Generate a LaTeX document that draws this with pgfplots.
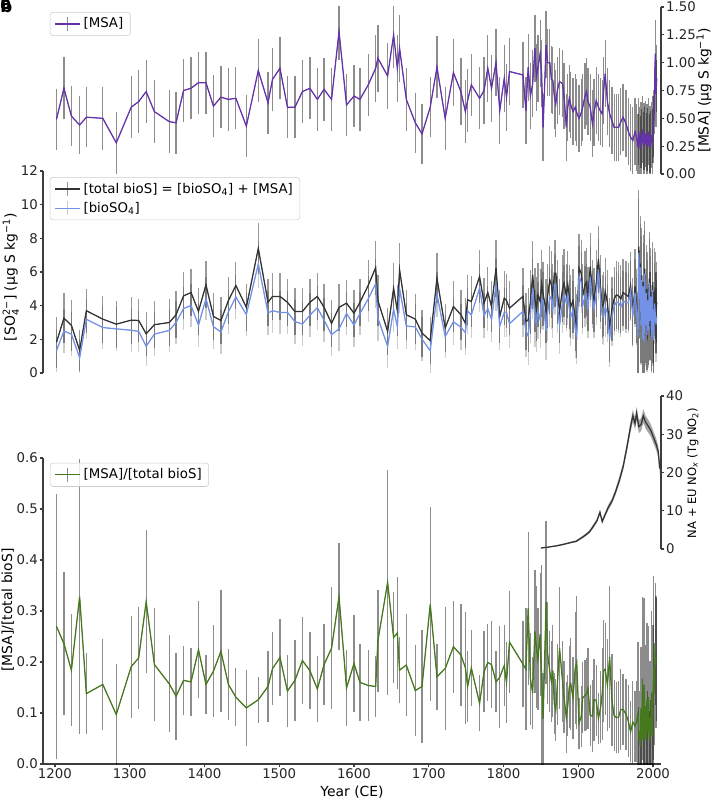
\documentclass[border=0pt]{standalone}
\usepackage{fontspec}
\setmainfont{DejaVu Sans}
\usepackage{amsmath}
\usepackage{pgfplots}
\usepackage{pgfplotstable}
\pgfplotsset{compat=1.18}
\newcommand{\fs}{\fontsize{10}{12}\selectfont}
\newcommand{\ft}{\fontsize{9.6}{11}\selectfont}
\definecolor{msacol}{RGB}{100,50,170}
\definecolor{biocol}{RGB}{115,145,230}
\definecolor{ratcol}{RGB}{70,120,30}
\definecolor{spine}{RGB}{60,60,60}

\pgfplotstableread{
year msa emsa tot etot bio ebio rat erat
1202 0.49 0.27 1.82 1.50 1.33 1.30 0.270 0.26
1212 0.77 0.28 3.26 1.50 2.49 1.30 0.236 0.14
1222 0.52 0.27 2.83 1.50 2.31 1.30 0.184 0.11
1233 0.44 0.26 1.34 1.20 0.90 1.10 0.328 0.27
1242 0.51 0.27 3.70 1.30 3.19 1.20 0.138 0.08
1264 0.50 0.28 3.20 1.40 2.70 1.30 0.156 0.09
1282 0.28 0.28 2.90 1.40 2.62 1.30 0.097 0.10
1302 0.60 0.28 3.14 1.40 2.54 1.30 0.191 0.10
1312 0.65 0.28 3.12 1.30 2.47 1.20 0.208 0.10
1322 0.74 0.28 2.33 1.30 1.59 1.20 0.318 0.14
1333 0.56 0.28 2.87 1.40 2.31 1.30 0.195 0.11
1353 0.47 0.28 3.00 1.40 2.53 1.30 0.157 0.095
1362 0.46 0.28 3.46 1.40 3.00 1.30 0.133 0.085
1372 0.75 0.28 4.58 1.40 3.83 1.30 0.164 0.067
1382 0.77 0.28 4.78 1.40 4.01 1.30 0.161 0.067
1392 0.82 0.28 3.66 1.40 2.84 1.30 0.224 0.095
1402 0.82 0.28 5.24 1.40 4.42 1.30 0.156 0.058
1412 0.61 0.28 3.36 1.40 2.75 1.30 0.182 0.09
1422 0.69 0.28 3.12 1.40 2.43 1.30 0.221 0.12
1432 0.67 0.28 4.30 1.40 3.63 1.30 0.156 0.07
1442 0.68 0.28 5.20 1.40 4.52 1.30 0.131 0.057
1456 0.43 0.28 3.90 1.40 3.47 1.30 0.110 0.075
1472 0.93 0.28 7.40 1.50 6.47 1.40 0.126 0.045
1485 0.64 0.28 4.20 1.40 3.56 1.30 0.152 0.07
1491 0.85 0.28 4.55 1.40 3.70 1.30 0.187 0.072
1501 0.95 0.28 4.55 1.40 3.60 1.30 0.209 0.075
1511 0.60 0.28 4.20 1.40 3.60 1.30 0.143 0.07
1521 0.60 0.28 3.65 1.40 3.05 1.30 0.164 0.08
1531 0.74 0.28 3.65 1.40 2.91 1.30 0.203 0.085
1541 0.77 0.28 4.20 1.40 3.43 1.30 0.183 0.075
1551 0.67 0.28 4.55 1.40 3.88 1.30 0.147 0.065
1560 0.76 0.28 3.90 1.40 3.14 1.30 0.195 0.08
1570 0.67 0.28 2.95 1.40 2.28 1.30 0.227 0.12
1580 1.28 0.26 3.90 1.40 2.62 1.30 0.328 0.105
1590 0.62 0.28 4.15 1.40 3.53 1.30 0.149 0.075
1600 0.70 0.28 3.55 1.40 2.85 1.30 0.197 0.095
1608 0.67 0.28 4.20 1.40 3.53 1.30 0.160 0.075
1619 0.80 0.28 5.20 1.50 4.40 1.35 0.154 0.07
1629 0.95 0.30 6.26 1.60 5.31 1.45 0.152 0.06
1632 1.04 0.30 4.30 1.50 3.26 1.35 0.242 0.10
1645 0.88 0.30 2.47 1.40 1.59 1.30 0.356 0.22
1653 1.25 0.30 5.04 1.50 3.79 1.35 0.248 0.09
1658 0.95 0.30 3.70 1.50 2.75 1.35 0.257 0.11
1661 1.13 0.30 6.13 1.60 5.00 1.45 0.184 0.065
1670 0.67 0.28 3.46 1.50 2.79 1.35 0.194 0.10
1682 0.46 0.27 3.20 1.50 2.74 1.35 0.144 0.09
1691 0.36 0.27 2.37 1.40 2.01 1.30 0.152 0.11
1702 0.60 0.27 1.92 1.40 1.32 1.30 0.313 0.19
1711 0.96 0.28 5.63 1.50 4.67 1.35 0.171 0.065
1722 0.50 0.28 2.67 1.40 2.17 1.30 0.187 0.12
1733 0.91 0.30 3.95 1.50 3.04 1.35 0.230 0.09
1743 0.74 0.30 3.46 1.50 2.72 1.35 0.214 0.10
1749 0.56 0.28 2.96 1.50 2.40 1.35 0.189 0.11
1752 0.66 0.28 4.35 1.50 3.69 1.35 0.152 0.07
1757 0.80 0.28 4.25 1.50 3.45 1.35 0.188 0.075
1768 0.68 0.28 5.73 1.60 5.05 1.45 0.119 0.055
1774 0.75 0.30 4.15 1.50 3.40 1.35 0.181 0.08
1779 0.95 0.30 4.78 1.50 3.83 1.35 0.199 0.075
1784 0.77 0.30 3.95 1.50 3.18 1.35 0.195 0.085
1790 1.00 0.30 6.23 1.70 5.23 1.55 0.161 0.06
1795 0.57 0.30 3.36 1.60 2.79 1.45 0.170 0.10
1801 0.86 0.30 4.45 1.60 3.59 1.45 0.193 0.08
1804 0.69 0.30 4.30 1.60 3.61 1.45 0.160 0.08
1808 0.92 0.30 3.85 1.60 2.93 1.45 0.239 0.10
1826 0.89 0.30 4.55 1.70 3.66 1.55 0.196 0.085
1830 0.57 0.30 3.06 1.70 2.49 1.55 0.186 0.12
1833 0.96 0.30 3.15 1.90 2.19 1.70 0.305 0.15
1836 0.70 0.30 4.20 1.90 3.50 1.70 0.167 0.09
1839 0.81 0.30 5.83 2.00 5.02 1.80 0.139 0.07
1842 1.13 0.30 4.35 1.90 3.22 1.70 0.260 0.12
1844 0.87 0.30 3.80 1.90 2.93 1.70 0.229 0.12
1846 0.95 0.30 4.64 1.90 3.69 1.70 0.205 0.10
1849 1.08 0.30 4.25 1.90 3.17 1.70 0.254 0.12
1851 0.90 0.30 5.30 2.00 4.40 1.80 0.170 0.22
1853 0.42 0.30 4.70 1.90 4.28 1.70 0.089 0.09
1857 1.16 0.30 3.66 1.90 2.50 1.70 0.317 0.16
1859 1.00 0.30 4.60 1.90 3.60 1.70 0.217 0.10
1862 1.00 0.30 5.53 2.00 4.53 1.80 0.181 0.08
1864 0.85 0.30 5.24 2.00 4.39 1.80 0.162 0.08
1866 0.84 0.30 4.60 1.90 3.76 1.70 0.183 0.09
1868 0.70 0.30 5.93 2.00 5.23 1.80 0.118 0.06
1870 0.63 0.30 5.93 2.00 5.30 1.80 0.106 0.06
1872 0.75 0.30 4.80 1.90 4.05 1.70 0.156 0.08
1875 0.83 0.30 3.66 1.90 2.83 1.70 0.227 0.12
1879 0.81 0.30 5.00 2.00 4.19 1.80 0.162 0.08
1881 0.70 0.30 5.34 2.00 4.64 1.80 0.131 0.07
1884 0.42 0.30 4.60 1.90 4.18 1.70 0.091 0.07
1886 0.60 0.30 5.24 2.00 4.64 1.80 0.115 0.06
1888 0.68 0.30 4.50 1.90 3.82 1.70 0.151 0.08
1890 0.62 0.30 3.95 1.90 3.33 1.70 0.157 0.09
1893 0.56 0.30 4.30 1.90 3.74 1.70 0.130 0.08
1896 0.60 0.30 3.20 1.90 2.60 1.70 0.188 0.11
1898 0.55 0.30 2.77 1.90 2.22 1.70 0.199 0.13
1901 0.50 0.30 6.23 2.00 5.73 1.80 0.080 0.05
1904 0.55 0.30 5.93 2.00 5.38 1.80 0.093 0.06
1906 0.60 0.30 4.60 1.90 4.00 1.70 0.130 0.07
1909 0.70 0.30 5.24 2.00 4.54 1.80 0.134 0.07
1911 0.74 0.30 5.40 2.00 4.66 1.80 0.137 0.07
1913 0.65 0.30 4.40 1.90 3.75 1.70 0.148 0.08
1916 0.60 0.30 6.32 2.00 5.72 1.80 0.095 0.06
1919 0.45 0.30 4.80 1.90 4.35 1.70 0.094 0.07
1921 0.55 0.30 4.35 1.90 3.80 1.70 0.126 0.08
1924 0.66 0.30 5.30 2.00 4.64 1.80 0.125 0.07
1927 0.60 0.30 6.76 2.00 6.16 1.80 0.089 0.05
1930 0.56 0.30 5.00 2.00 4.44 1.80 0.112 0.07
1932 0.54 0.30 3.95 1.90 3.41 1.70 0.137 0.09
1934 0.75 0.30 4.10 1.90 3.35 1.70 0.183 0.10
1936 0.90 0.30 4.84 2.00 3.94 1.80 0.186 0.09
1939 0.65 0.30 4.20 1.90 3.55 1.70 0.155 0.09
1942 0.54 0.30 2.57 1.90 2.03 1.70 0.210 0.14
1945 0.48 0.30 3.80 1.90 3.32 1.70 0.126 0.09
1948 0.42 0.30 4.40 1.90 3.98 1.70 0.095 0.07
1951 0.42 0.30 4.64 2.00 4.22 1.80 0.091 0.07
1954 0.42 0.30 4.58 2.00 4.16 1.80 0.092 0.07
1957 0.47 0.30 4.40 2.00 3.93 1.80 0.107 0.08
1960 0.51 0.30 4.78 2.00 4.27 1.80 0.107 0.07
1964 0.45 0.30 4.64 2.00 4.19 1.80 0.097 0.07
1967 0.38 0.30 4.55 2.00 4.17 1.80 0.084 0.07
1970 0.33 0.30 5.20 2.00 4.87 1.80 0.063 0.06
1973 0.30 0.30 3.66 2.00 3.36 1.80 0.082 0.08
1976 0.38 0.30 5.14 2.20 4.76 2.00 0.074 0.07
1978 0.33 0.30 4.00 2.20 3.67 2.00 0.083 0.08
1980 0.24 0.30 2.40 2.40 2.16 2.20 0.100 0.14
1981 0.38 0.30 7.50 3.40 7.12 3.20 0.051 0.06
1982 0.30 0.30 4.70 2.60 4.40 2.40 0.064 0.08
1983 0.22 0.30 6.50 2.80 6.28 2.60 0.034 0.06
1984 0.35 0.30 3.20 2.60 2.85 2.40 0.109 0.12
1985 0.28 0.30 5.80 2.80 5.52 2.60 0.048 0.06
1986 0.40 0.30 2.40 2.40 2.00 2.20 0.167 0.16
1987 0.26 0.30 5.40 2.80 5.14 2.60 0.048 0.06
1988 0.34 0.30 2.20 2.40 1.86 2.20 0.155 0.17
1989 0.30 0.30 6.20 2.80 5.90 2.60 0.048 0.06
1990 0.36 0.30 3.20 2.60 2.84 2.40 0.113 0.12
1991 0.25 0.30 5.00 2.60 4.75 2.40 0.050 0.07
1992 0.33 0.30 2.60 2.40 2.27 2.20 0.127 0.15
1993 0.29 0.30 4.60 2.60 4.31 2.40 0.063 0.08
1994 0.38 0.30 2.90 2.40 2.52 2.20 0.131 0.14
1995 0.24 0.30 5.60 2.80 5.36 2.60 0.043 0.06
1996 0.31 0.30 3.40 2.60 3.09 2.40 0.091 0.11
1997 0.27 0.30 4.80 2.60 4.53 2.40 0.056 0.07
1998 0.35 0.30 2.50 2.40 2.15 2.20 0.140 0.16
1999 0.28 0.30 5.20 2.60 4.92 2.40 0.054 0.07
2000 0.40 0.30 3.00 2.40 2.60 2.20 0.133 0.14
2001 0.45 0.30 2.40 2.40 1.95 2.20 0.188 0.18
2002 0.66 0.30 4.80 2.60 4.14 2.40 0.138 0.10
2003 1.08 0.30 4.60 2.60 3.52 2.40 0.235 0.12
2004 0.72 0.30 3.60 2.40 2.88 2.20 0.200 0.13
2005 0.86 0.30 4.20 2.40 3.34 2.20 0.205 0.12
}\datatab

\pgfplotstableread{
year nox
1850 0.25
1860 0.5
1870 0.8
1880 1.2
1890 1.7
1897 2.0
1905 3.0
1910 3.7
1915 4.5
1920 5.9
1925 7.4
1929 9.6
1932 7.2
1936 9.0
1940 10.8
1945 12.5
1950 15.0
1955 18.0
1960 21.5
1965 26.5
1970 32.0
1973 34.8
1976 32.8
1978 35.5
1981 32.0
1984 32.5
1987 34.8
1990 33.2
1994 32.0
1997 31.0
2000 29.5
2004 27.5
2007 25.5
2009 21.0
}\noxtab

% uncertainty band of the NOx series: upper edge forward, lower edge back
\pgfplotstableread{
year band
1850 0.35
1860 0.6
1870 0.95
1880 1.4
1890 1.9
1897 2.25
1905 3.3
1910 4.05
1915 4.9
1920 6.4
1925 7.9
1929 10.2
1932 7.8
1936 9.6
1940 11.5
1945 13.2
1950 15.8
1955 18.9
1960 22.5
1965 27.7
1970 33.4
1973 36.4
1976 34.4
1978 37.2
1981 33.7
1984 34.2
1987 36.6
1990 34.9
1994 33.7
1997 32.6
2000 31.1
2004 29.0
2007 27.0
2009 22.5
2009 19.5
2007 24.0
2004 26.0
2000 27.9
1997 29.4
1994 30.3
1990 31.5
1987 33.0
1984 30.8
1981 30.3
1978 33.8
1976 31.2
1973 33.2
1970 30.6
1965 25.3
1960 20.5
1955 17.1
1950 14.2
1945 11.8
1940 10.1
1936 8.4
1932 6.6
1929 9.0
1925 6.9
1920 5.4
1915 4.1
1910 3.35
1905 2.7
1897 1.75
1890 1.5
1880 1.0
1870 0.65
1860 0.4
1850 0.15
}\bandtab

\pgfplotsset{
  base/.style={
    scale only axis, width=444.96pt, xmin=1184, xmax=2010.7,
    anchor=south west,
    axis line style={spine, line width=0.8pt},
    tick style={spine, line width=0.8pt},
    major tick length=2.5pt,
    tick align=outside,
    tick label style={font=\ft, text=black!85},
    yticklabel style={inner xsep=1pt},
    xticklabel style={inner ysep=0.5pt},
    /pgf/number format/assume math mode=true,
    /pgf/number format/set thousands separator={},
    legend cell align=left,
    legend style={draw=black!20, rounded corners=2pt, fill=white, fill opacity=0.8, text opacity=1,
      font=\ft, inner xsep=3pt, inner ysep=2pt, row sep=1pt},
  },
  ebar/.style={forget plot, line width=0.3pt,
    error bars/.cd, y dir=both, y explicit, error mark=none,
    error bar style={black, line width=0.9pt, opacity=#1}},
  errleg/.style={legend image code/.code={
    \draw[black, opacity=#1, line width=0.9pt] (0.32cm,-0.18cm) -- (0.32cm,0.18cm);
    \draw (0cm,0cm) -- (0.64cm,0cm);}},
}

\begin{document}
\begin{tikzpicture}
\useasboundingbox (0,0) rectangle (514.08pt,576pt);

% ---------- panel a: MSA ----------
\begin{axis}[base, at={(30.96pt,450.72pt)}, height=120.24pt,
  ymin=0, ymax=1.5, hide x axis, axis y line*=right,
  ytick={0,0.25,0.5,0.75,1,1.25,1.5},
  yticklabel style={/pgf/number format/.cd, fixed, fixed zerofill, precision=2},
  every axis y label/.style={at={(axis description cs:1.0696,0.5)}, rotate=90, anchor=center, font=\fs},
  ylabel={[MSA] (µg S kg\textsuperscript{−1})},
  legend style={at={(0.011,0.97)}, anchor=north west}]
\addplot[msacol, ebar=0.45] table[x=year, y=msa, y error=emsa]{\datatab};
\addplot[msacol, line width=0.9pt, errleg=0.45] table[x=year, y=msa]{\datatab};
\addlegendentry{[MSA]}
\end{axis}

% ---------- panel b: SO4 ----------
\begin{axis}[base, at={(30.96pt,307.44pt)}, height=145.44pt,
  ymin=0, ymax=12, hide x axis, axis y line*=left,
  ytick={0,2,4,6,8,10,12},
  every axis y label/.style={at={(axis description cs:-0.052,0.475)}, rotate=90, anchor=center, font=\fs},
  ylabel={[SO$_{\text{4}}^{\text{2−}}$] (µg S kg\textsuperscript{−1})},
  legend style={at={(0.011,0.97)}, anchor=north west}]
\addplot[black!80, ebar=0.4] table[x=year, y=tot, y error=etot]{\datatab};
\addplot[biocol, ebar=0.2] table[x=year, y=bio, y error=ebio]{\datatab};
\addplot[black!80, line width=0.9pt, errleg=0.4] table[x=year, y=tot]{\datatab};
\addlegendentry{[total bioS] = [bioSO$_{\text{4}}$] + [MSA]}
\addplot[biocol, line width=0.9pt, errleg=0.2] table[x=year, y=bio]{\datatab};
\addlegendentry{[bioSO$_{\text{4}}$]}
\end{axis}

% ---------- panel c: ratio ----------
\begin{axis}[base, at={(30.96pt,25.92pt)}, height=220.32pt,
  ymin=0, ymax=0.6, axis x line*=bottom, axis y line*=left,
  xtick={1200,1300,...,2000},
  ytick={0,0.1,0.2,0.3,0.4,0.5,0.6},
  yticklabel style={/pgf/number format/.cd, fixed, fixed zerofill, precision=1},
  every axis y label/.style={at={(axis description cs:-0.057,0.503)}, rotate=90, anchor=center, font=\fs},
  ylabel={[MSA]/[total bioS]},
  every axis x label/.style={at={(axis description cs:0.5,-0.0905)}, anchor=center, font=\fs},
  xlabel={Year (CE)},
  legend style={at={(0.011,0.984)}, anchor=north west}]
\addplot[ratcol, ebar=0.45] table[x=year, y=rat, y error=erat]{\datatab};
\addplot[ratcol, line width=0.9pt, errleg=0.45] table[x=year, y=rat]{\datatab};
\addlegendentry{[MSA]/[total bioS]}
\end{axis}

% ---------- inset: NOx ----------
\begin{axis}[base, at={(30.96pt,180.72pt)}, height=110.16pt,
  ymin=0, ymax=40, hide x axis, axis y line*=right,
  ytick={0,10,20,30,40},
  every axis y label/.style={at={(axis description cs:1.0518,0.497)}, rotate=90, anchor=center,
    font=\fontsize{8.3}{10}\selectfont},
  ylabel={NA + EU NO$_{\text{\itshape x}}$ (Tg NO$_{\text{2}}$)}]
\addplot[draw=none, fill=black, fill opacity=0.35] table[x=year, y=band]{\bandtab} -- cycle;
\addplot[black!80, line width=0.9pt] table[x=year, y=nox]{\noxtab};
\end{axis}

\node[anchor=north west, inner sep=0pt, font=\bfseries\fontsize{12}{12}\selectfont] at (0pt,576pt) {a};
\node[anchor=north west, inner sep=0pt, font=\bfseries\fontsize{12}{12}\selectfont] at (0pt,576pt) {b};
\node[anchor=north west, inner sep=0pt, font=\bfseries\fontsize{12}{12}\selectfont] at (0pt,576pt) {c};
\end{tikzpicture}
\end{document}
